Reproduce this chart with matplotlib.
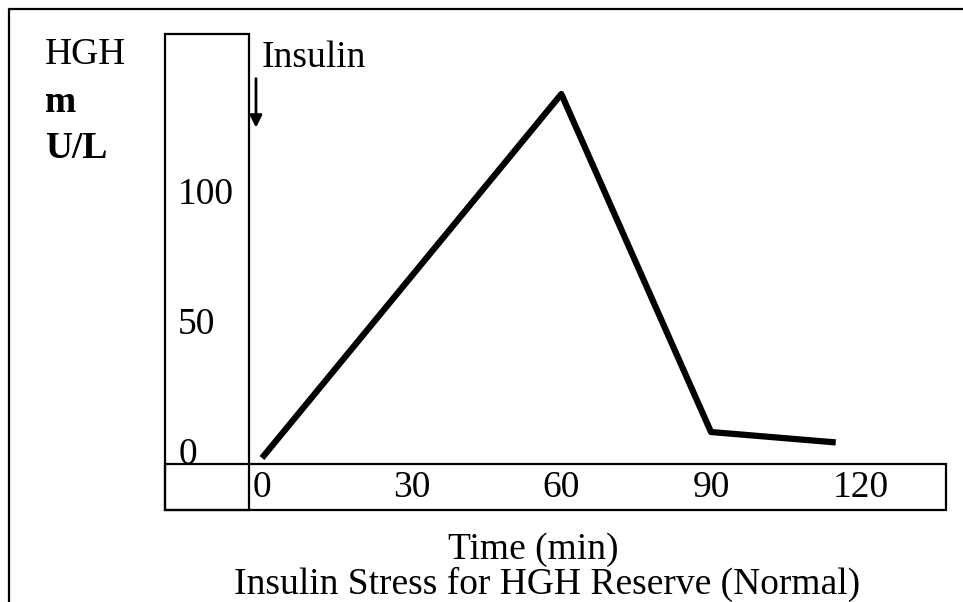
import matplotlib
matplotlib.use("Agg")
import matplotlib.pyplot as plt
import matplotlib.transforms as mtransforms
from matplotlib.patches import Rectangle
from matplotlib.lines import Line2D

# Data
time_min = [0, 60, 90, 115]
hgh = [0, 140, 10, 6]
x_ticks = [0, 30, 60, 90, 120]
y_ticks = [0, 50, 100]

W, H = 963, 602
fig = plt.figure(figsize=(W / 100, H / 100), dpi=100)
plt.rcParams['font.family'] = ['Liberation Serif', 'DejaVu Serif']
FS = 27


def fx(px):
    return px / W


def fy(py):
    return 1 - py / H


# plot area (right of the tall box, above the bottom box)
ax = fig.add_axes([fx(249), fy(464), fx(946) - fx(249), fy(34) - fy(464)])
ax.plot(time_min, hgh, color='black', linewidth=4.5, solid_capstyle='butt')
ax.set_xlim(-2.6, 137.1)
ax.set_ylim(-2.3, 163.1)
for s in ax.spines.values():
    s.set_visible(False)
ax.set_xticks(x_ticks)
ax.set_yticks(y_ticks)
ax.tick_params(length=0, labelsize=FS, labelfontfamily='Liberation Serif')
ax.tick_params(axis='x', pad=5)
ax.tick_params(axis='y', pad=51)
shift = mtransforms.ScaledTranslation(0, 7 / 100, fig.dpi_scale_trans)
for lab in ax.get_yticklabels():
    lab.set_horizontalalignment('left')
    lab.set_transform(lab.get_transform() + shift)

# insulin arrow
ax.annotate('', xy=(-1.2, 126), xytext=(-1.2, 147),
            arrowprops=dict(arrowstyle='-|>', color='black', lw=2,
                            mutation_scale=18))
fig.text(fx(262), fy(58), 'Insulin', fontsize=FS, va='center', ha='left')

# boxes drawn around the axis labels
fig.patches.append(Rectangle((fx(165), fy(510)), fx(249) - fx(165), fy(34) - fy(510),
                             transform=fig.transFigure, fill=False, lw=1.6, ec='black'))
fig.patches.append(Rectangle((fx(165), fy(510)), fx(946) - fx(165), fy(464) - fy(510),
                             transform=fig.transFigure, fill=False, lw=1.6, ec='black'))
# outer frame
fig.lines.append(Line2D([fx(9), fx(9), fx(970)], [fy(610), fy(9), fy(9)],
                        transform=fig.transFigure, color='black', lw=1.6))

# y label
fig.text(fx(45), fy(55), 'HGH', fontsize=FS, va='center', ha='left')
fig.text(fx(45), fy(102), 'm', fontsize=FS, fontweight='bold', va='center', ha='left')
fig.text(fx(45), fy(148), 'U/L', fontsize=FS, fontweight='bold', va='center', ha='left')

fig.text(fx(533), fy(550), 'Time (min)', fontsize=FS, va='center', ha='center')
fig.text(fx(547), fy(584), 'Insulin Stress for HGH Reserve (Normal)', fontsize=FS,
         va='center', ha='center')

fig.savefig('out.png', dpi=100)
